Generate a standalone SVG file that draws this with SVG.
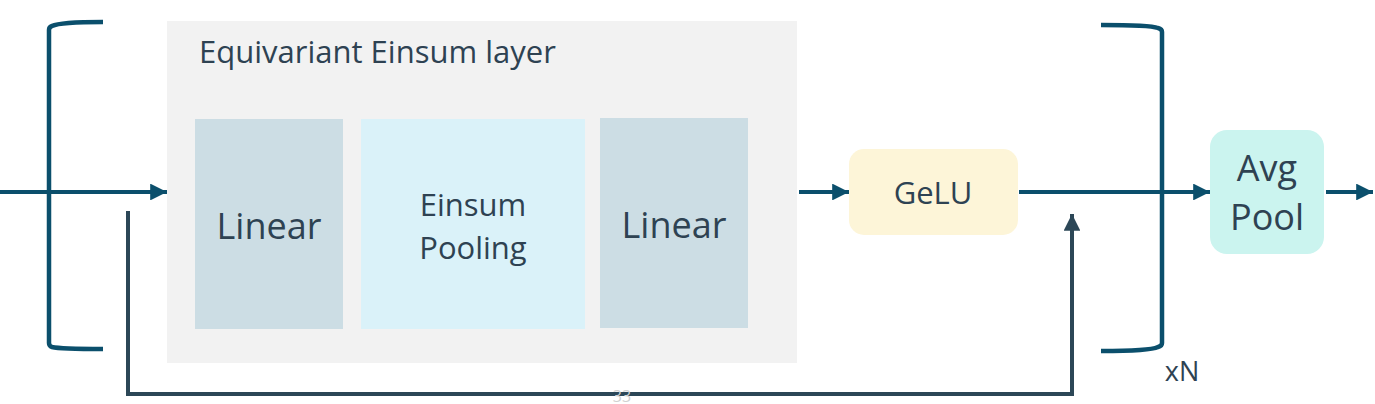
<svg xmlns="http://www.w3.org/2000/svg" width="1375" height="404" viewBox="0 0 1375 404">
<defs>
<marker id="ah" viewBox="0 0 10 10" refX="10" refY="5" markerWidth="4.2" markerHeight="4.2" markerUnits="strokeWidth" orient="auto"><path d="M0,0 L10,5 L0,10 z" fill="#0b4f6c"/></marker>
<marker id="ahd" viewBox="0 0 10 10" refX="10" refY="5" markerWidth="4.2" markerHeight="4.2" markerUnits="strokeWidth" orient="auto"><path d="M0,0 L10,5 L0,10 z" fill="#2c4757"/></marker>
</defs>
<style>
.t{font-family:"Open Sans","Noto Sans","DejaVu Sans",sans-serif;fill:#2e4252;text-anchor:middle}
.br{fill:none;stroke:#0b4f6c;stroke-width:4.5;stroke-linecap:butt}
.c{fill:none;stroke:#0b4f6c;stroke-width:4}
.s{fill:none;stroke:#2c4757;stroke-width:4}
</style>
<rect width="1375" height="404" fill="#ffffff"/>
<g id="brackets">
<path class="br" d="M103,22 Q60,22 52,26 Q49,27 49,30 L49,343 Q49,346 52,347 Q60,349 103,349"/>
<path class="br" d="M1101,25 Q1150,25 1158,28 Q1162,29 1162,32 L1162,343 Q1162,346 1158,347 Q1150,351 1101,351"/>
</g>
<g id="layer">
<rect x="167" y="21" width="630" height="342" fill="#f2f2f2"/>
<text class="t" x="199" y="63" font-size="31" style="text-anchor:start">Equivariant Einsum layer</text>
</g>
<g id="linear1">
<rect x="195" y="119" width="148" height="210" fill="#ccdde4"/>
<text class="t" x="269" y="239" font-size="36">Linear</text>
</g>
<g id="einsum">
<rect x="361" y="119" width="224" height="210" fill="#daf2f9"/>
<text class="t" x="473" y="216" font-size="31">Einsum</text>
<text class="t" x="473" y="259" font-size="31">Pooling</text>
</g>
<g id="linear2">
<rect x="600" y="118" width="148" height="210" fill="#ccdde4"/>
<text class="t" x="674" y="238" font-size="36">Linear</text>
</g>
<g id="gelu">
<rect x="849" y="149" width="169" height="86" rx="15" fill="#fdf5d8"/>
<text class="t" x="933" y="204" font-size="31">GeLU</text>
</g>
<g id="avgpool">
<rect x="1210" y="130" width="114" height="124" rx="17" fill="#cbf4ef"/>
<text class="t" x="1267" y="181" font-size="36">Avg</text>
<text class="t" x="1267" y="230" font-size="36">Pool</text>
</g>
<g id="connectors">
<line class="c" x1="0" y1="192" x2="167" y2="192" marker-end="url(#ah)"/>
<line class="c" x1="799" y1="192" x2="849" y2="192" marker-end="url(#ah)"/>
<line class="c" x1="1019" y1="192" x2="1210" y2="192" marker-end="url(#ah)"/>
<line class="c" x1="1326" y1="192" x2="1373" y2="192" marker-end="url(#ah)"/>
<path class="s" d="M128,211 L128,394 L1072,394 L1072,214" marker-end="url(#ahd)"/>
</g>
<text class="t" x="1182" y="381" font-size="27">xN</text>
<text x="622" y="402" font-family="Open Sans, sans-serif" font-size="16" fill="#d0d0d0" text-anchor="middle">33</text>
</svg>
